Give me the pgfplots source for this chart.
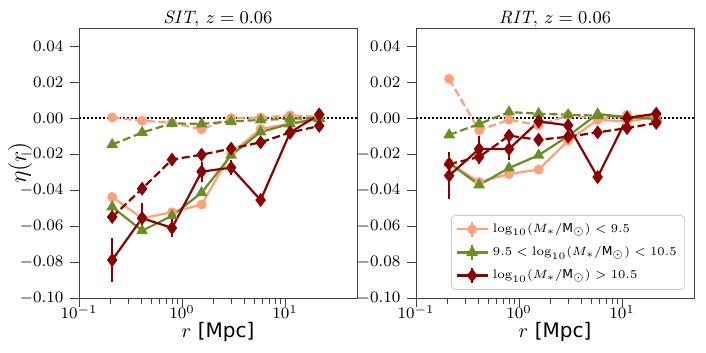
\documentclass[border=0pt]{standalone}
\usepackage{fontspec}
\setsansfont{DejaVu Sans}
\usepackage{pgfplots}
\pgfplotsset{compat=1.18}

\definecolor{lsalmon}{HTML}{FFA07A}
\definecolor{olived}{HTML}{6B8E23}
\definecolor{dred}{HTML}{8B0000}

\pgfplotsset{
  ser/.style={color=#1, line width=1.1pt, solid,
    error bars/y dir=both, error bars/y explicit, error bars/error mark=none,
    error bars/error bar style={line width=1.1pt, solid}},
  dsh/.style={dash pattern=on 4pt off 1.8pt},
  mc/.style={mark=*, mark size=1.9pt, mark options={solid}},
  mt/.style={mark=triangle*, mark size=2.3pt, mark options={solid}},
  md/.style={mark=diamond*, mark size=2.6pt, mark options={solid}},
}

\begin{document}
\begin{tikzpicture}
\path[use as bounding box] (0,0) rectangle (353pt,176.5pt);

% SIT panel
\begin{axis}[xmode=log, scale only axis, width=139pt, height=135pt,
  anchor=south west, at={(39.5pt,27.5pt)},
  xmin=0.1, xmax=50, ymin=-0.1, ymax=0.05,
  xtick={0.1,1,10},
  ytick={-0.1,-0.08,-0.06,-0.04,-0.02,0,0.02,0.04},
  yticklabel style={/pgf/number format/fixed, /pgf/number format/fixed zerofill,
    /pgf/number format/precision=2},
  xticklabel style={yshift=4pt},
  tick align=outside, tick pos=left,
  axis line style={black!75}, tick style={black!75},
  ticklabel style={font=\footnotesize},
  title style={font=\small, yshift=-9pt},
  xlabel={$r$ \textsf{[Mpc]}},
  xlabel style={font=\normalsize, yshift=5pt},
  title={$\mathit{SIT}$, $z=0.06$},
  ylabel={$\eta(r)$}, ylabel style={font=\large, yshift=-13pt}]
\addplot[black, line width=1pt, densely dotted] coordinates {(0.1,0) (50,0)};
\addplot[ser=lsalmon, mc] table[y error index=2] {
0.21 -0.0439 0.003
0.41 -0.0557 0.001
0.80 -0.0524 0.001
1.55 -0.0481 0.001
3.0 -0.0196 0.002
5.8 -0.0061 0.001
11.2 -0.0030 0.001
21.5 0.0000 0.001
};
\addplot[ser=lsalmon, mc, dsh] table[y error index=2] {
0.21 0.0003 0.001
0.41 -0.0015 0.001
0.80 -0.0026 0.001
1.55 -0.0063 0.001
3.0 0.0000 0.001
5.8 0.0002 0.001
11.2 0.0015 0.001
21.5 0.0007 0.001
};
\addplot[ser=olived, mt] table[y error index=2] {
0.21 -0.0494 0.002
0.41 -0.0626 0.001
0.80 -0.0543 0.001
1.55 -0.0415 0.001
3.0 -0.0207 0.001
5.8 -0.0078 0.001
11.2 -0.0033 0.001
21.5 -0.0004 0.001
};
\addplot[ser=olived, mt, dsh] table[y error index=2] {
0.21 -0.0148 0.001
0.41 -0.0081 0.001
0.80 -0.0030 0.001
1.55 -0.0033 0.001
3.0 -0.0019 0.001
5.8 -0.0011 0.001
11.2 -0.0004 0.001
21.5 0.0000 0.001
};
\addplot[ser=dred, md] table[y error index=2] {
0.21 -0.0789 0.012
0.41 -0.0556 0.0085
0.80 -0.0611 0.005
1.55 -0.0298 0.0055
3.0 -0.0276 0.004
5.8 -0.0456 0.002
11.2 -0.0081 0.001
21.5 0.0020 0.001
};
\addplot[ser=dred, md, dsh] table[y error index=2] {
0.21 -0.0550 0.001
0.41 -0.0393 0.001
0.80 -0.0231 0.001
1.55 -0.0204 0.001
3.0 -0.0170 0.001
5.8 -0.0135 0.001
11.2 -0.0081 0.001
21.5 -0.0044 0.001
};
\end{axis}

% RIT panel
\begin{axis}[xmode=log, scale only axis, width=139pt, height=135pt,
  anchor=south west, at={(208pt,27.5pt)},
  xmin=0.1, xmax=50, ymin=-0.1, ymax=0.05,
  xtick={0.1,1,10},
  ytick={-0.1,-0.08,-0.06,-0.04,-0.02,0,0.02,0.04},
  yticklabel style={/pgf/number format/fixed, /pgf/number format/fixed zerofill,
    /pgf/number format/precision=2},
  xticklabel style={yshift=4pt},
  tick align=outside, tick pos=left,
  axis line style={black!75}, tick style={black!75},
  ticklabel style={font=\footnotesize},
  title style={font=\small, yshift=-9pt},
  xlabel={$r$ \textsf{[Mpc]}},
  xlabel style={font=\normalsize, yshift=5pt},
  title={$\mathit{RIT}$, $z=0.06$},
  legend style={at={(0.968,0.03)}, anchor=south east,
    font=\fontsize{6.2}{7.5}\selectfont,
    draw=black!20, rounded corners=2pt, fill=white,
    row sep=1.5pt, inner sep=2pt},
  legend cell align=left,
  legend image code/.code={
    \draw[#1] (0cm,0cm) -- (0.55cm,0cm);
    \draw[#1] (0.275cm,-0.13cm) -- (0.275cm,0.13cm);
    \draw[#1] plot coordinates {(0.275cm,0cm)};
  }]
\addplot[black, line width=1pt, densely dotted, forget plot] coordinates {(0.1,0) (50,0)};
\addplot[ser=lsalmon, mc] table[y error index=2] {
0.21 -0.0250 0.001
0.41 -0.0356 0.001
0.80 -0.0311 0.001
1.55 -0.0287 0.001
3.0 -0.0126 0.001
5.8 -0.0010 0.001
11.2 -0.0019 0.001
21.5 0.0005 0.001
};
\addlegendentry{$\log_{10}(M_*/\mathsf{M}_\odot) < 9.5$}
\addplot[ser=lsalmon, mc, dsh, forget plot] table[y error index=2] {
0.21 0.0217 0.001
0.41 -0.0069 0.001
0.80 -0.0009 0.001
1.55 -0.0041 0.001
3.0 0.0015 0.001
5.8 -0.0005 0.001
11.2 0.0017 0.001
21.5 0.0009 0.001
};
\addplot[ser=olived, mt] table[y error index=2] {
0.21 -0.0250 0.001
0.41 -0.0372 0.001
0.80 -0.0278 0.001
1.55 -0.0207 0.001
3.0 -0.0100 0.001
5.8 0.0022 0.001
11.2 0.0005 0.001
21.5 -0.0005 0.001
};
\addlegendentry{$9.5 < \log_{10}(M_*/\mathsf{M}_\odot) < 10.5$}
\addplot[ser=olived, mt, dsh, forget plot] table[y error index=2] {
0.21 -0.0094 0.001
0.41 -0.0033 0.001
0.80 0.0033 0.001
1.55 0.0024 0.001
3.0 0.0018 0.001
5.8 0.0013 0.001
11.2 0.0005 0.001
21.5 0.0000 0.001
};
\addplot[ser=dred, md] table[y error index=2] {
0.21 -0.0320 0.013
0.41 -0.0172 0.007
0.80 -0.0172 0.006
1.55 -0.0019 0.001
3.0 -0.0041 0.002
5.8 -0.0328 0.002
11.2 0.0000 0.001
21.5 0.0024 0.001
};
\addlegendentry{$\log_{10}(M_*/\mathsf{M}_\odot) > 10.5$}
\addplot[ser=dred, md, dsh, forget plot] table[y error index=2] {
0.21 -0.0256 0.001
0.41 -0.0217 0.004
0.80 -0.0098 0.001
1.55 -0.0121 0.003
3.0 -0.0104 0.001
5.8 -0.0080 0.001
11.2 -0.0056 0.001
21.5 -0.0028 0.001
};
\end{axis}
\end{tikzpicture}
\end{document}
